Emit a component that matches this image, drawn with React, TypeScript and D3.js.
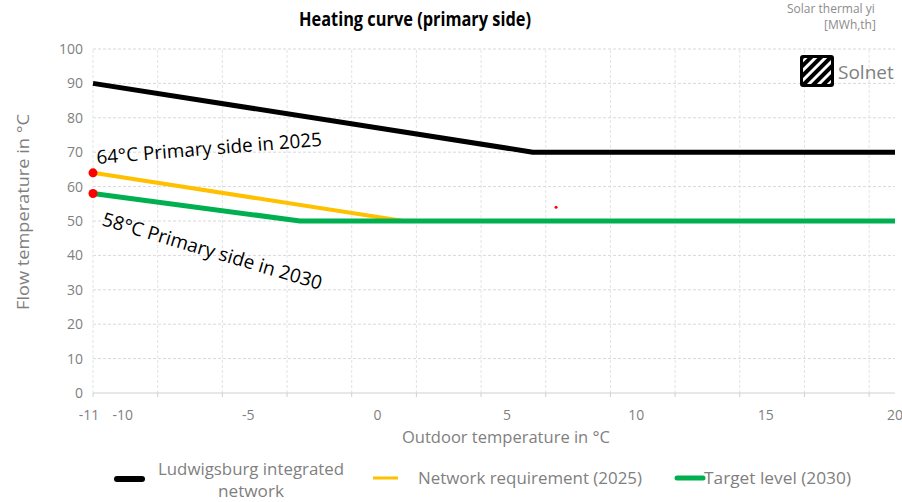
import React from "react";
import * as d3 from "d3";

// outdoor temperature (x) and flow temperature (y) values
const outdoorTicks = [-11, -10, -5, 0, 5, 10, 15, 20];
const flowTicks = [0, 10, 20, 30, 40, 50, 60, 70, 80, 90, 100];

const networkOutdoor = [-11, 6, 20];
const networkFlow = [90, 70, 70];

const req2025Outdoor = [-11, 1, 20];
const req2025Flow = [64, 50, 50];

const target2030Outdoor = [-11, -3, 20];
const target2030Flow = [58, 50, 50];

const markerOutdoor = [-11, -11];
const markerFlow = [64, 58];

const strayOutdoor = [6.9];
const strayFlow = [54];

const series = [
  { name: "network", xs: networkOutdoor, ys: networkFlow, color: "#000000", width: 5 },
  { name: "req2025", xs: req2025Outdoor, ys: req2025Flow, color: "#FFC000", width: 4 },
  { name: "target2030", xs: target2030Outdoor, ys: target2030Flow, color: "#00B050", width: 5 },
];

const W = 902;
const H = 502;
const margin = { top: 49, right: 7, bottom: 109, left: 93 };

const labelFont = "'Open Sans', 'Noto Sans', sans-serif";

export default function App() {
  const x = d3.scaleLinear().domain([-11, 20]).range([margin.left, W - margin.right]);
  const y = d3.scaleLinear().domain([0, 100]).range([H - margin.bottom, margin.top]);

  const line = d3
    .line<[number, number]>()
    .x((d) => x(d[0]))
    .y((d) => y(d[1]));

  // Excel puts the vertical gridlines every 2.5 units from the axis minimum
  const gridX = d3.range(-11, 20.01, 2.5);

  return (
    <svg
      width={W}
      height={H}
      style={{ position: "absolute", left: 0, top: 0, background: "#fff" }}
    >
      {/* gridlines */}
      {flowTicks.slice(1).map((t) => (
        <line
          key={"h" + t}
          x1={x(-11)}
          x2={x(20)}
          y1={y(t)}
          y2={y(t)}
          stroke="#d9d9d9"
          strokeWidth={1}
          strokeDasharray="3,2"
        />
      ))}
      {gridX.map((t) => (
        <line
          key={"v" + t}
          x1={x(t)}
          x2={x(t)}
          y1={y(0)}
          y2={y(100)}
          stroke="#e3e3e3"
          strokeWidth={1}
          strokeDasharray="3,2"
        />
      ))}

      {/* x axis line + ticks */}
      <line x1={x(-11)} x2={x(20)} y1={y(0)} y2={y(0)} stroke="#d0d0d0" strokeWidth={1} />
      {gridX.map((t) => (
        <line key={"t" + t} x1={x(t)} x2={x(t)} y1={y(0)} y2={y(0) + 4} stroke="#d0d0d0" />
      ))}

      {/* tick labels */}
      {outdoorTicks.map((t) => (
        <text
          key={"xl" + t}
          x={x(t) + (t === -11 ? -4 : t === -10 ? 4 : 0)}
          y={y(0) + 27}
          textAnchor="middle"
          fontFamily={labelFont}
          fontSize={14}
          fill="#7f7f7f"
        >
          {t}
        </text>
      ))}
      {flowTicks.map((t) => (
        <text
          key={"yl" + t}
          x={x(-11) - 10}
          y={y(t) + 5}
          textAnchor="end"
          fontFamily={labelFont}
          fontSize={14}
          fill="#7f7f7f"
        >
          {t}
        </text>
      ))}

      {/* series */}
      {series.map((s) => (
        <path
          key={s.name}
          d={line(s.xs.map((v, i) => [v, s.ys[i]] as [number, number])) || ""}
          fill="none"
          stroke={s.color}
          strokeWidth={s.width}
          strokeLinejoin="round"
        />
      ))}

      {markerOutdoor.map((v, i) => (
        <circle key={"m" + i} cx={x(v)} cy={y(markerFlow[i])} r={4.5} fill="#ff0000" />
      ))}
      {strayOutdoor.map((v, i) => (
        <circle key={"s" + i} cx={x(v)} cy={y(strayFlow[i])} r={1.5} fill="#ff0000" />
      ))}

      {/* annotations */}
      <text
        x={97}
        y={164}
        transform="rotate(-4.6 97 164)"
        fontFamily={labelFont}
        fontSize={19}
        textLength={226}
        lengthAdjust="spacingAndGlyphs"
        fill="#000"
      >
        64°C Primary side in 2025
      </text>
      <text
        x={101}
        y={225}
        transform="rotate(16.5 101 225)"
        fontFamily={labelFont}
        fontSize={19}
        textLength={228}
        lengthAdjust="spacingAndGlyphs"
        fill="#000"
      >
        58°C Primary side in 2030
      </text>

      {/* title */}
      <text
        x={415}
        y={26}
        textAnchor="middle"
        fontFamily={labelFont}
        fontSize={20}
        fontWeight="bold"
        textLength={232}
        lengthAdjust="spacingAndGlyphs"
        fill="#000"
      >
        Heating curve (primary side)
      </text>

      {/* top-right leftovers */}
      <text x={787} y={13} fontFamily={labelFont} fontSize={12} fill="#8c8c8c">
        Solar thermal yi
      </text>
      <text x={850} y={29} textAnchor="middle" fontFamily={labelFont} fontSize={12} fill="#8c8c8c">
        [MWh,th]
      </text>
      <defs>
        <pattern id="stripes" width="7" height="7" patternUnits="userSpaceOnUse" patternTransform="rotate(45)">
          <rect width="7" height="7" fill="#000" />
          <rect width="3" height="7" fill="#fff" />
        </pattern>
        <clipPath id="logoClip">
          <rect x={803} y={58} width={28} height={26} rx={2} />
        </clipPath>
      </defs>
      <rect x={800} y={55} width={34} height={32} rx={3} fill="#000" />
      <rect x={803} y={58} width={28} height={26} fill="url(#stripes)" clipPath="url(#logoClip)" />
      <text x={838} y={79} fontFamily={labelFont} fontSize={19} fill="#7f7f7f">
        Solnet
      </text>

      {/* axis titles */}
      <text
        transform="translate(29, 212) rotate(-90)"
        textAnchor="middle"
        fontFamily={labelFont}
        fontSize={17}
        textLength={196}
        lengthAdjust="spacingAndGlyphs"
        fill="#7f7f7f"
      >
        Flow temperature in °C
      </text>
      <text
        x={506}
        y={443}
        textAnchor="middle"
        fontFamily={labelFont}
        fontSize={16}
        textLength={208}
        lengthAdjust="spacingAndGlyphs"
        fill="#7f7f7f"
      >
        Outdoor temperature in °C
      </text>

      {/* legend */}
      <line x1={117} x2={142} y1={479} y2={479} stroke="#000" strokeWidth={6} strokeLinecap="round" />
      <text x={251} y={475} textAnchor="middle" fontFamily={labelFont} fontSize={16} textLength={186} lengthAdjust="spacingAndGlyphs" fill="#7f7f7f">
        Ludwigsburg integrated
      </text>
      <text x={251} y={497} textAnchor="middle" fontFamily={labelFont} fontSize={16} textLength={66} lengthAdjust="spacingAndGlyphs" fill="#7f7f7f">
        network
      </text>
      <line x1={373} x2={398} y1={478} y2={478} stroke="#FFC000" strokeWidth={3} />
      <text x={418} y={484} fontFamily={labelFont} fontSize={16} textLength={224} lengthAdjust="spacingAndGlyphs" fill="#7f7f7f">
        Network requirement (2025)
      </text>
      <line x1={677} x2={703} y1={478} y2={478} stroke="#00B050" strokeWidth={5} strokeLinecap="round" />
      <text x={704} y={484} fontFamily={labelFont} fontSize={16} textLength={147} lengthAdjust="spacingAndGlyphs" fill="#7f7f7f">
        Target level (2030)
      </text>
    </svg>
  );
}
